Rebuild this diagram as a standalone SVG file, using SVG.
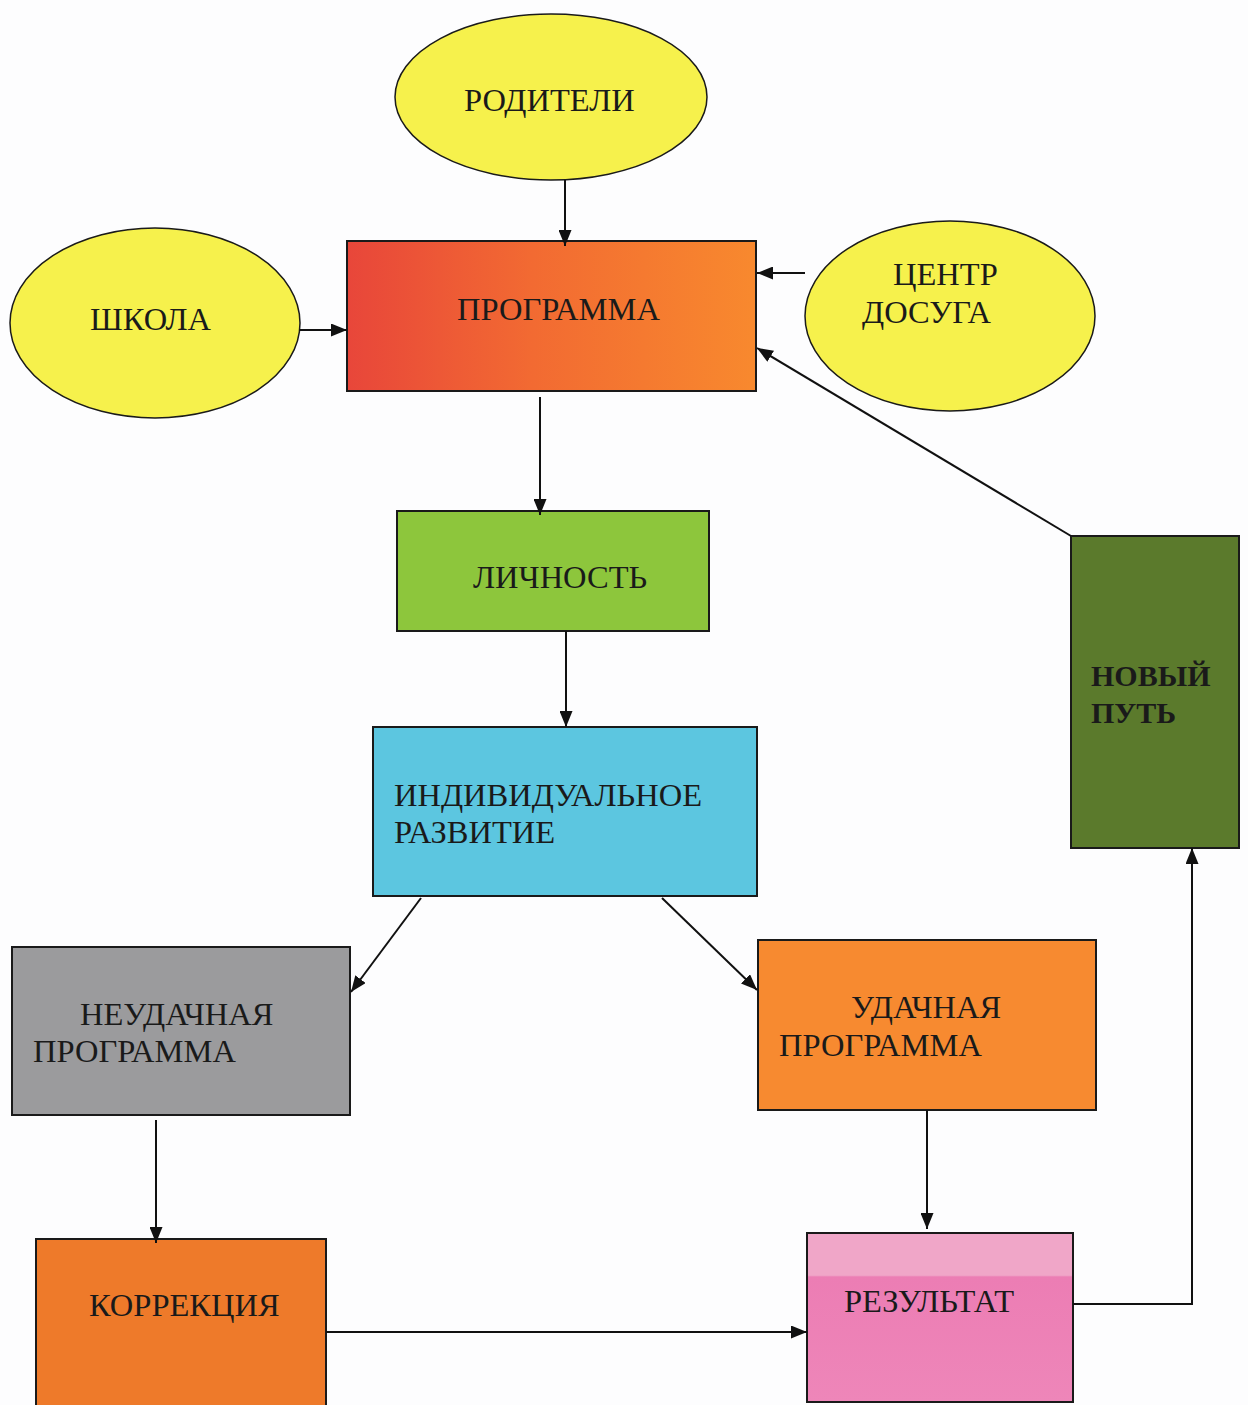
<svg xmlns="http://www.w3.org/2000/svg" width="1248" height="1405" viewBox="0 0 1248 1405">
<defs>
<marker id="ah" viewBox="0 0 16 13" refX="16" refY="6.5" markerWidth="16" markerHeight="13" markerUnits="userSpaceOnUse" orient="auto">
<path d="M0,0 L16,6.5 L0,13 Z" fill="#111"/>
</marker>
<linearGradient id="gProg" x1="0" y1="0" x2="1" y2="0">
<stop offset="0" stop-color="#e8463a"/>
<stop offset="0.45" stop-color="#f26a32"/>
<stop offset="1" stop-color="#f8892e"/>
</linearGradient>
<linearGradient id="gRes" x1="0" y1="0" x2="0" y2="1">
<stop offset="0" stop-color="#f0a6c8"/>
<stop offset="0.25" stop-color="#f0a6c8"/>
<stop offset="0.26" stop-color="#ec7db4"/>
<stop offset="1" stop-color="#ee86b9"/>
</linearGradient>
</defs>
<style>
.ell{fill:#f6f14c;stroke:#1a1a1a;stroke-width:1.5}
.box{stroke:#1a1a1a;stroke-width:2}
.t{font-family:"Liberation Serif","Times New Roman",serif;font-size:32.5px;fill:#1a1a1a}
.b{font-size:30px;font-weight:bold}
.c{fill:none;stroke:#111;stroke-width:2}
</style>
<rect width="1248" height="1405" fill="#fdfdfe"/>

<g id="roditeli"><ellipse class="ell" cx="551" cy="97" rx="156" ry="83"/><text class="t" x="464" y="111">РОДИТЕЛИ</text></g>
<g id="shkola"><ellipse class="ell" cx="155" cy="323" rx="145" ry="95"/><text class="t" x="90" y="330">ШКОЛА</text></g>
<g id="centr"><ellipse class="ell" cx="950" cy="316" rx="145" ry="95"/><text class="t" x="893" y="285">ЦЕНТР</text><text class="t" x="862" y="323">ДОСУГА</text></g>
<g id="programma"><rect class="box" x="347" y="241" width="409" height="150" fill="url(#gProg)"/><text class="t" x="457" y="320">ПРОГРАММА</text></g>
<g id="lichnost"><rect class="box" x="397" y="511" width="312" height="120" fill="#8dc63c"/><text class="t" x="473" y="588">ЛИЧНОСТЬ</text></g>
<g id="razvitie"><rect class="box" x="373" y="727" width="384" height="169" fill="#5cc6e0"/><text class="t" x="394" y="806">ИНДИВИДУАЛЬНОЕ</text><text class="t" x="394" y="843">РАЗВИТИЕ</text></g>
<g id="neudachnaya"><rect class="box" x="12" y="947" width="338" height="168" fill="#9b9b9d"/><text class="t" x="80" y="1025">НЕУДАЧНАЯ</text><text class="t" x="33" y="1062">ПРОГРАММА</text></g>
<g id="udachnaya"><rect class="box" x="758" y="940" width="338" height="170" fill="#f78a30"/><text class="t" x="851" y="1018">УДАЧНАЯ</text><text class="t" x="779" y="1056">ПРОГРАММА</text></g>
<g id="korrekciya"><rect class="box" x="36" y="1239" width="290" height="170" fill="#ee7a2a"/><text class="t" x="89" y="1316">КОРРЕКЦИЯ</text></g>
<g id="rezultat"><rect class="box" x="807" y="1233" width="266" height="169" fill="url(#gRes)"/><text class="t" x="844" y="1312">РЕЗУЛЬТАТ</text></g>
<g id="novyi"><rect class="box" x="1071" y="536" width="168" height="312" fill="#5b7a2c"/><text class="t b" x="1091" y="686">НОВЫЙ</text><text class="t b" x="1091" y="723">ПУТЬ</text></g>

<g id="connectors">
<line class="c" x1="565" y1="180" x2="565" y2="246" marker-end="url(#ah)"/>
<line class="c" x1="299" y1="330" x2="347" y2="330" marker-end="url(#ah)"/>
<line class="c" x1="805" y1="273" x2="757" y2="273" marker-end="url(#ah)"/>
<line class="c" x1="1071" y1="536" x2="757" y2="348" marker-end="url(#ah)"/>
<line class="c" x1="540" y1="397" x2="540" y2="515" marker-end="url(#ah)"/>
<line class="c" x1="566" y1="631" x2="566" y2="727" marker-end="url(#ah)"/>
<line class="c" x1="421" y1="898" x2="351" y2="992" marker-end="url(#ah)"/>
<line class="c" x1="662" y1="898" x2="757" y2="990" marker-end="url(#ah)"/>
<line class="c" x1="156" y1="1120" x2="156" y2="1243" marker-end="url(#ah)"/>
<line class="c" x1="927" y1="1110" x2="927" y2="1229" marker-end="url(#ah)"/>
<line class="c" x1="326" y1="1332" x2="807" y2="1332" marker-end="url(#ah)"/>
<polyline class="c" points="1073,1304 1192,1304 1192,848" marker-end="url(#ah)"/>
</g>
</svg>
